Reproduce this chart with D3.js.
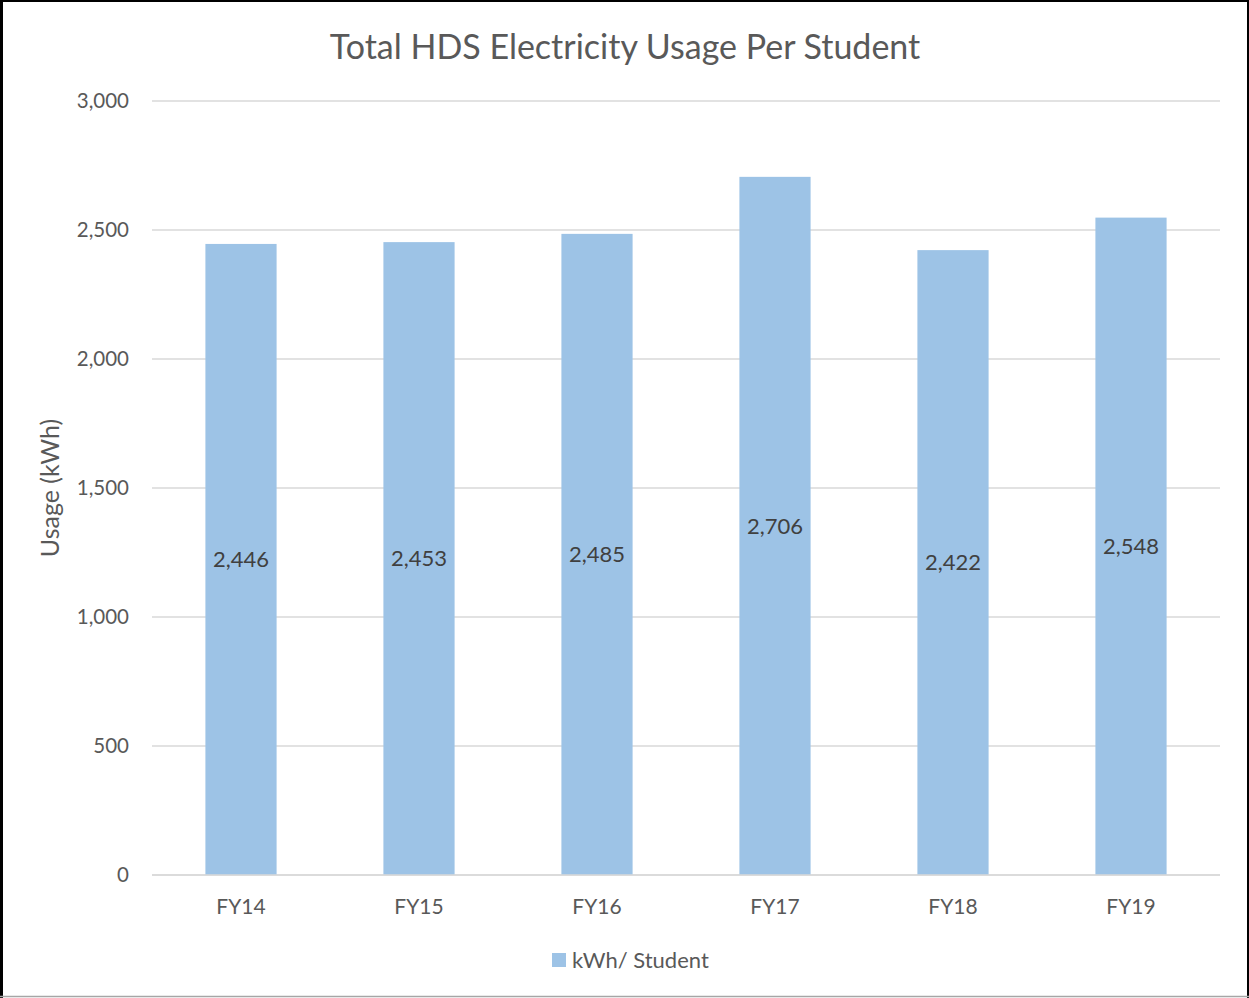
<!DOCTYPE html>
<html><head><meta charset="utf-8">
<script src="https://cdn.jsdelivr.net/npm/d3@7"></script>
<style>html,body{margin:0;padding:0;background:#fff;}svg{display:block;font-family:Lato, "Open Sans", sans-serif;}</style>
</head><body>
<svg id="chart" width="1249" height="998"></svg>
<script>
const categories = ["FY14","FY15","FY16","FY17","FY18","FY19"];
const values = [2446, 2453, 2485, 2706, 2422, 2548];
const yTicks = [0, 500, 1000, 1500, 2000, 2500, 3000];
const seriesName = "kWh/ Student";
const title = "Total HDS Electricity Usage Per Student";
const yLabel = "Usage (kWh)";

const svg = d3.select("#chart");
const W = 1249, H = 998;
const m = {left: 152, right: 1220, top: 101, bottom: 875};
const barColor = "#9dc3e6";
const textColor = "#595959";

// border
svg.append("rect").attr("x",0).attr("y",0).attr("width",W).attr("height",H).attr("fill","#fff");
svg.append("line").attr("x1",1.5).attr("x2",1.5).attr("y1",0).attr("y2",H).attr("stroke","#000").attr("stroke-width",3);
svg.append("line").attr("x1",0).attr("x2",W).attr("y1",1).attr("y2",1).attr("stroke","#000").attr("stroke-width",2);
svg.append("line").attr("x1",W-1).attr("x2",W-1).attr("y1",0).attr("y2",H).attr("stroke","#000").attr("stroke-width",2);
svg.append("line").attr("x1",0).attr("x2",W).attr("y1",H-1.5).attr("y2",H-1.5).attr("stroke","#a6a6a6").attr("stroke-width",1.5);

const x = d3.scaleBand().domain(categories).range([m.left, m.right]).paddingInner(0.6).paddingOuter(0.3);
const y = d3.scaleLinear().domain([0, 3000]).range([m.bottom, m.top]);

// gridlines
svg.append("g").selectAll("line").data(yTicks).join("line")
  .attr("x1", m.left).attr("x2", m.right)
  .attr("y1", d => y(d)).attr("y2", d => y(d))
  .attr("stroke", "#d9d9d9").attr("stroke-width", 1.5);

// y tick labels
svg.append("g").selectAll("text").data(yTicks).join("text")
  .attr("x", 129).attr("y", d => y(d)).attr("dy", "0.35em")
  .attr("text-anchor", "end").attr("font-size", 20.5).attr("fill", textColor)
  .text(d => d3.format(",")(d));

// bars
svg.append("g").selectAll("rect").data(values).join("rect")
  .attr("x", (d,i) => x(categories[i])).attr("width", x.bandwidth())
  .attr("y", d => y(d)).attr("height", d => y(0) - y(d))
  .attr("fill", barColor);

// baseline
svg.append("line").attr("x1", m.left).attr("x2", m.right).attr("y1", y(0)).attr("y2", y(0))
  .attr("stroke", "#d9d9d9").attr("stroke-width", 1.5);

// data labels
svg.append("g").selectAll("text").data(values).join("text")
  .attr("x", (d,i) => x(categories[i]) + x.bandwidth()/2)
  .attr("y", d => y(d/2)).attr("dy", "0.35em")
  .attr("text-anchor", "middle").attr("font-size", 22).attr("fill", "#404040")
  .text(d => d3.format(",")(d));

// x labels
svg.append("g").selectAll("text").data(categories).join("text")
  .attr("x", d => x(d) + x.bandwidth()/2).attr("y", 907).attr("dy", "0.35em")
  .attr("text-anchor", "middle").attr("font-size", 21).attr("fill", textColor)
  .text(d => d);

// title
svg.append("text").attr("x", 625).attr("y", 47).attr("dy", "0.35em")
  .attr("text-anchor", "middle").attr("font-size", 34).attr("fill", textColor).text(title);

// y axis label
svg.append("text").attr("transform", "translate(50,488) rotate(-90)").attr("dy", "0.35em")
  .attr("text-anchor", "middle").attr("font-size", 25).attr("fill", textColor).text(yLabel);

// legend
const lg = svg.append("g");
lg.append("rect").attr("x", 552).attr("y", 953).attr("width", 14).attr("height", 14).attr("fill", barColor);
lg.append("text").attr("x", 572).attr("y", 960).attr("dy", "0.35em").attr("font-size", 22).attr("fill", textColor).text(seriesName);
</script>
</body></html>
